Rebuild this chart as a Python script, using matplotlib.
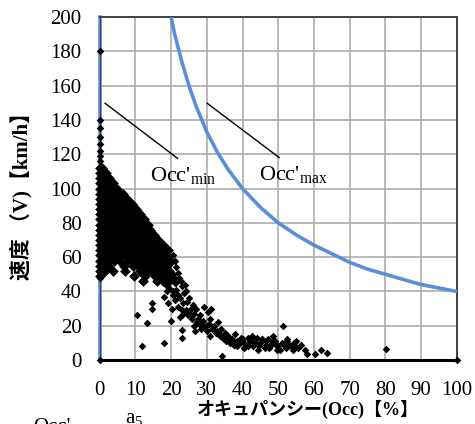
import matplotlib
matplotlib.use("Agg")
import matplotlib.pyplot as plt

# hyperbola Occ'max
curve_occ = [20, 21, 22, 23, 24, 25, 27, 30, 33, 36, 40, 45, 50, 55, 60, 65, 70, 75, 80, 85, 90, 95, 100]
curve_speed = [200, 190, 182, 174, 167, 160, 148, 133, 121, 111, 100, 89, 80, 73, 67, 62, 57, 53, 50, 47, 44, 42, 40]

# Occ'min line at occupancy 0
min_occ = [0, 0]
min_speed = [0, 200]

# dense core of observations, one row per speed band
core_speed = [112, 109, 106, 103, 100, 97, 94, 91, 88, 85, 82, 79, 76, 73, 70, 67, 64, 61, 58, 55, 52, 49, 46]
core_occ = [
    [0, 0.6],
    [0, 0.8, 1.7],
    [0, 0.7, 1.6, 2.6],
    [0, 0.9, 1.8, 2.8, 3.7],
    [0, 0.8, 1.9, 2.9, 3.9, 4.8],
    [0, 1.0, 2.1, 3.2, 4.2, 5.3, 6.4],
    [0, 0.9, 2.0, 3.1, 4.3, 5.4, 6.5, 7.6],
    [0, 1.1, 2.2, 3.4, 4.5, 5.6, 6.8, 7.9, 9.0],
    [0, 1.0, 2.1, 3.3, 4.4, 5.5, 6.7, 7.8, 8.9, 10.1],
    [0, 1.2, 2.3, 3.5, 4.6, 5.8, 6.9, 8.1, 9.2, 10.4, 11.3],
    [0, 1.0, 2.2, 3.4, 4.5, 5.7, 6.9, 8.0, 9.2, 10.3, 11.5, 12.4],
    [0, 1.1, 2.3, 3.5, 4.7, 5.9, 7.0, 8.2, 9.4, 10.6, 11.7, 12.8, 13.6],
    [0, 1.2, 2.4, 3.6, 4.8, 6.0, 7.2, 8.4, 9.6, 10.8, 11.9, 13.0, 14.2],
    [0, 1.0, 2.2, 3.4, 4.6, 5.8, 7.0, 8.2, 9.4, 10.6, 11.8, 13.0, 14.1, 15.2],
    [0, 1.1, 2.3, 3.5, 4.7, 5.9, 7.1, 8.3, 9.5, 10.7, 11.9, 13.1, 14.3, 15.4, 16.3],
    [0, 1.2, 2.4, 3.6, 4.8, 6.0, 7.2, 8.4, 9.6, 10.8, 12.0, 13.2, 14.4, 15.6, 16.8, 17.6],
    [0, 1.0, 2.2, 3.4, 4.6, 5.8, 7.0, 8.2, 9.4, 10.6, 11.8, 13.0, 14.2, 15.4, 16.5, 17.8, 19.2],
    [0, 1.1, 2.3, 3.5, 4.7, 5.9, 7.1, 8.3, 9.5, 10.7, 11.9, 13.1, 14.5, 15.8, 17.2, 18.5],
    [0, 1.3, 2.6, 4.0, 5.6, 7.7, 9.0, 10.4, 11.6, 12.9, 14.6, 16.3, 17.4, 19.8],
    [0, 2.2, 6.8, 9.2, 10.6, 11.8, 13.0, 14.2, 15.6, 17.0, 18.6],
    [0, 1.5, 3.6, 7.0, 11.4, 13.1, 14.4, 16.2, 17.5, 19.4],
    [0, 9.6, 12.8, 15.5, 16.9, 18.3, 20.1],
    [12.2, 16.1, 17.7, 19.5, 21.3],
]

# sparse observations (column at Occ=0, tail and outliers)
sparse_occ = [0, 0, 0, 0, 0, 0, 0, 0, 0,
              18.5, 19.6, 20.4, 21.2, 22.3, 23.1, 20.6, 22.0, 24.1, 25.0, 21.0, 19.2, 23.2, 26.0, 24.3, 20.2,
              25.2, 27.0, 28.1, 29.0, 30.2, 31.0, 27.2, 32.1, 33.0, 26.3, 28.3, 30.0, 34.0, 35.1, 29.2, 31.3,
              25.8, 27.9, 23.4, 22.6, 26.8, 29.8, 32.8, 33.6, 30.8,
              36.0, 37.1, 38.0, 39.2, 40.1, 41.0, 42.2, 43.0, 44.1, 45.0, 46.2, 47.1, 48.0, 36.5, 38.4, 40.5,
              42.6, 44.4, 46.6, 49.1, 50.0, 51.2, 52.1, 53.0, 54.2, 55.1, 37.6, 39.6, 41.5, 43.6, 45.6, 47.8,
              49.6, 52.6, 35.5, 34.4, 54.8, 48.6,
              19.5, 20.5, 21.5, 22.5, 23.5, 24.5, 21.8, 23.0, 24.8, 25.6, 26.5, 27.5, 28.5, 29.5, 30.5, 31.5,
              32.5, 33.5, 34.5, 35.5, 36.5, 37.5, 38.5, 39.5, 40.5, 41.5, 42.5, 43.5, 44.5, 45.5, 46.5, 47.5,
              48.5, 49.5, 50.5, 51.5, 52.5, 53.5, 54.5, 55.5, 56.5, 57.5,
              21.0, 21.5, 20.5, 22.0, 19.8, 18.8, 17.9, 22.8, 24.0,
              51.3, 58.0, 60.3, 63.6, 62.0, 80.2, 100.0, 0, 34.2, 11.9, 18.0, 13.2, 14.6, 14.6, 20.0, 23.0, 23.0, 10.5]
sparse_speed = [180, 140, 135, 130, 126, 122, 119, 116, 48,
                44, 47, 50, 45, 48, 43, 40, 38, 40, 36, 35, 33, 33, 32, 29, 30,
                27, 30, 26, 23, 28, 24, 22, 20, 22, 20, 18, 17, 18, 16, 31, 30,
                24, 21, 27, 25, 17, 20, 17, 14, 14,
                14, 12, 15, 10, 12, 9, 11, 8, 13, 10, 7, 12, 9, 10, 8, 7,
                14, 6, 11, 11, 8, 10, 7, 9, 6, 11, 9, 12, 13, 10, 12, 9,
                6, 12, 11, 13, 8, 14,
                42, 38, 41, 36, 39, 34, 31, 29, 26, 30, 27, 24, 21, 19, 21, 18,
                16, 15, 13, 12, 11, 9, 11, 13, 10, 8, 12, 10, 8, 12, 9, 7,
                11, 9, 6, 9, 11, 8, 10, 7, 9, 6,
                58, 54, 61, 51, 56, 40, 37, 46, 44,
                20, 3.5, 3.5, 4.3, 6, 6.2, 0, 0, 2.3, 8.3, 10, 21.4, 33, 30, 23, 17.5, 13, 26]

x_ticks = [0, 10, 20, 30, 40, 50, 60, 70, 80, 90, 100]
y_ticks = [0, 20, 40, 60, 80, 100, 120, 140, 160, 180, 200]

serif = 'Liberation Serif'
jp = ['Liberation Serif', 'Noto Sans CJK JP']

fig = plt.figure(figsize=(4.75, 4.24), dpi=100)
ax = fig.add_axes([0.2099, 0.1509, 0.7516, 0.809])

pts_occ = []
pts_speed = []
for s, row in zip(core_speed, core_occ):
    pts_occ += row
    pts_speed += [s] * len(row)

ax.plot(min_occ, min_speed, color='#5A8FD8', lw=2.6, clip_on=False, zorder=2)
ax.scatter(pts_occ, pts_speed, marker='D', s=30, color='black', lw=0, zorder=3, clip_on=False)
ax.scatter(sparse_occ, sparse_speed, marker='D', s=15, color='black', lw=0, zorder=3, clip_on=False)
ax.plot(curve_occ, curve_speed, color='#5A8FD8', lw=2.6, zorder=4)

# annotation leaders
ax.plot([1.5, 21.8], [149.7, 117.6], color='black', lw=1.0, zorder=5)
ax.plot([30.1, 50.3], [149.7, 118], color='black', lw=1.0, zorder=5)
ax.text(14.0, 104, "Occ'$_{\\mathregular{min}}$", family=serif, fontsize=16, ha='left', va='baseline')
ax.text(44.5, 105, "Occ'$_{\\mathregular{max}}$", family=serif, fontsize=16, ha='left', va='baseline')

ax.set_xlim(0, 100)
ax.set_ylim(0, 200)
ax.set_xticks(x_ticks)
ax.set_yticks(y_ticks)
ax.set_xticklabels([str(v) for v in x_ticks], family=serif, fontsize=15)
ax.set_yticklabels([str(v) for v in y_ticks], family=serif, fontsize=15)
ax.tick_params(axis='x', length=0, pad=15)
ax.tick_params(axis='y', length=0, pad=13)
ax.grid(True, color='#a6a6a6', lw=1.1)
ax.set_axisbelow(True)

for side in ['top', 'right']:
    ax.spines[side].set_color('#404040')
    ax.spines[side].set_linewidth(1.4)
ax.spines['left'].set_color('#404040')
ax.spines['bottom'].set_color('black')
ax.spines['bottom'].set_linewidth(2.2)

fig.text(0.648, 0.035, "オキュパンシー(Occ)【%】", family=jp, fontsize=13, weight='bold', ha='center', va='center')
fig.text(0.045, 0.55, "速度 （V)【km/h】", family=jp, fontsize=15, weight='bold', rotation=90, ha='center', va='center')

# stray labels at the bottom edge
fig.text(0.263, -0.012, "a$_{\\mathregular{5}}$", family=serif, fontsize=15, ha='left', va='bottom')
fig.text(0.07, -0.03, "Occ'", family=serif, fontsize=15, ha='left', va='bottom')

fig.savefig('out.png', dpi=100)
